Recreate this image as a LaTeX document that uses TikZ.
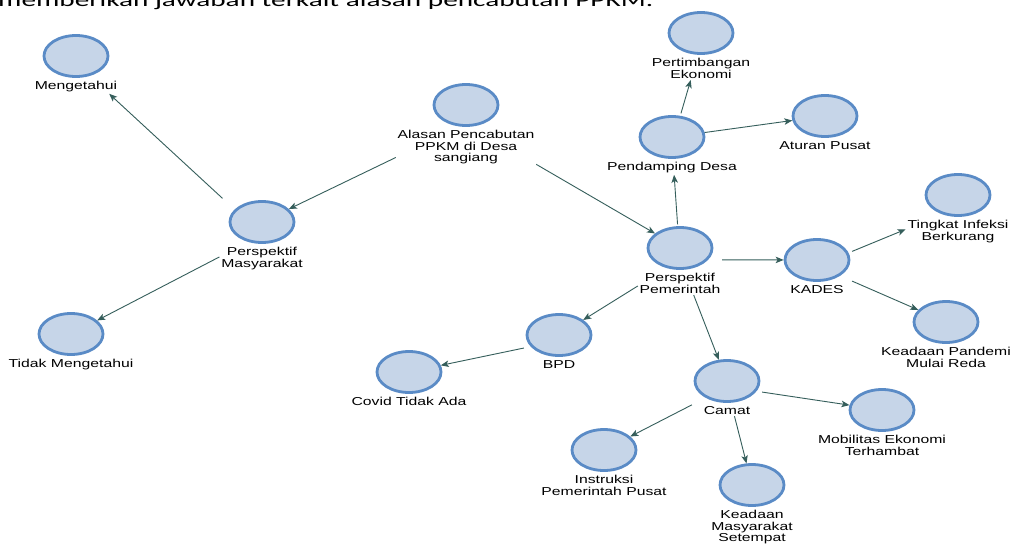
\documentclass[tikz,border=0pt]{standalone}
\usepackage{fontspec}
\usetikzlibrary{shapes.geometric,arrows.meta,calc,fit}
\newfontfamily\lblfont[FakeStretch=1.37]{Liberation Sans}
\newfontfamily\capfont{Carlito}
\definecolor{bubfill}{HTML}{C6D5E8}
\definecolor{bubline}{HTML}{5A8BC6}
\definecolor{arrcol}{HTML}{355E5B}
\tikzset{
  bub/.style={ellipse, draw=bubline, fill=bubfill, line width=2.8pt,
    minimum width=64pt, minimum height=41pt, inner sep=0pt},
  lbl/.style={font=\lblfont\fontsize{11.5}{11.5}\selectfont, align=center,
    inner sep=0pt, text=black, anchor=north},
  fitbox/.style={inner sep=1.5pt, draw=none},
  arr/.style={draw=arrcol, line width=0.9pt,
    -{Stealth[length=8pt,width=6.5pt,inset=2pt]}}
}
\newcommand\mkconcept[3]{%
  \node[bub] (#1) at (#2) {};
  \node[lbl] (#1-l) at ($(#1)+(0,25)$) {#3};
  \node[fitbox, fit=(#1)(#1-l)] (#1-b) {};
}
\begin{document}
\begin{tikzpicture}[x=1pt,y=-1pt]
\useasboundingbox (0,0) rectangle (1011,543);
\fill[white] (0,0) rectangle (1011,543);
\clip (0,0) rectangle (1011,543);
\node[anchor=base west, inner sep=0pt] (cap) at (-2,7)
  {\resizebox{655pt}{13pt}{\capfont memberikan jawaban terkait alasan pencabutan PPKM.}};

\mkconcept{mg}{76,56}{Mengetahui}
\mkconcept{pm}{262,222}{Perspektif\\Masyarakat}
\mkconcept{tm}{71,334}{Tidak Mengetahui}
\mkconcept{al}{466,105}{Alasan Pencabutan\\PPKM di Desa\\sangiang}
\mkconcept{pe}{701,33}{Pertimbangan\\Ekonomi}
\mkconcept{pd}{672,137}{Pendamping Desa}
\mkconcept{ap}{825,116}{Aturan Pusat}
\mkconcept{ti}{958,195}{Tingkat Infeksi\\Berkurang}
\mkconcept{pp}{680,248}{Perspektif\\Pemerintah}
\mkconcept{kd}{817,260}{KADES}
\mkconcept{kp}{946,322}{Keadaan Pandemi\\Mulai Reda}
\mkconcept{cm}{727,381}{Camat}
\mkconcept{mo}{882,410}{Mobilitas Ekonomi\\Terhambat}
\mkconcept{km}{752,485}{Keadaan\\Masyarakat\\Setempat}
\mkconcept{bp}{559,335}{BPD}
\mkconcept{cv}{409,372}{Covid Tidak Ada}
\mkconcept{in}{604,450}{Instruksi\\Pemerintah Pusat}

\draw[arr] (al-b) -- (pm);
\draw[arr] (al-b) -- (pp);
\draw[arr] (pm-b) -- (mg-b);
\draw[arr] (pm-b) -- (tm);
\draw[arr] (pp-b) -- (pd-b);
\draw[arr] (pd-b) -- (pe-b);
\draw[arr] (pd) -- (ap);
\draw[arr] (pp-b) -- (kd);
\draw[arr] (kd-b) -- (ti-b);
\draw[arr] (kd-b) -- (kp);
\draw[arr] (pp-b) -- (bp);
\draw[arr] (pp-b) -- (cm);
\draw[arr] (bp-b) -- (cv);
\draw[arr] (cm-b) -- (in);
\draw[arr] (cm-b) -- (mo);
\draw[arr] (cm-b) -- (km);
\end{tikzpicture}
\end{document}
